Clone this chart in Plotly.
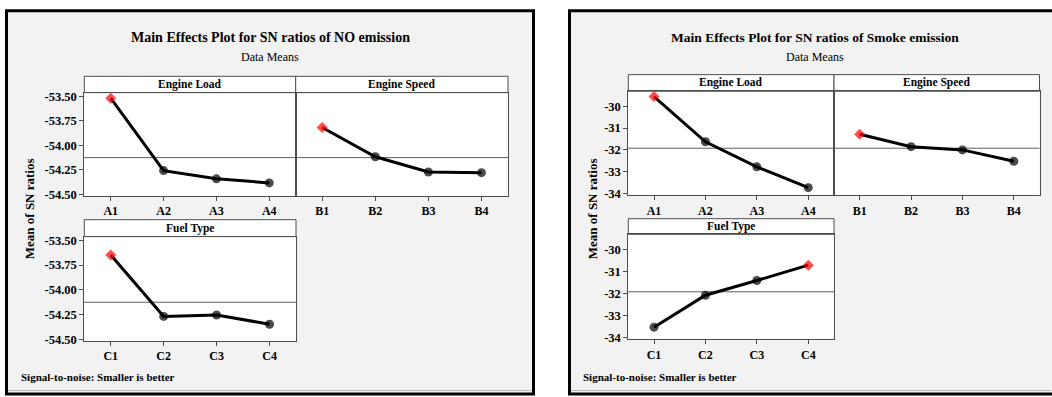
import plotly.graph_objects as go

# ---- data: mean SN ratio (dB) for each factor level ----
load_levels = ["A1", "A2", "A3", "A4"]
speed_levels = ["B1", "B2", "B3", "B4"]
fuel_levels = ["C1", "C2", "C3", "C4"]

no_load = [-53.52, -54.258, -54.342, -54.383]
no_speed = [-53.819, -54.117, -54.272, -54.279]
no_fuel = [-53.648, -54.268, -54.254, -54.347]

smoke_load = [-29.552, -31.627, -32.776, -33.73]
smoke_speed = [-31.281, -31.85, -31.997, -32.52]
smoke_fuel = [-33.53, -32.076, -31.409, -30.711]

no_tick_vals = [-53.50, -53.75, -54.00, -54.25, -54.50]
no_tick_text = ["-53.50", "-53.75", "-54.00", "-54.25", "-54.50"]
smoke_tick_vals = [-30, -31, -32, -33, -34]
smoke_tick_text = ["-30", "-31", "-32", "-33", "-34"]

no_mean = sum(no_load + no_speed + no_fuel) / 12
smoke_mean = sum(smoke_load + smoke_speed + smoke_fuel) / 12

# ---- canvas helpers (pixel -> paper) ----
W, H = 1052, 397


def px(x):
    return x / W


def py(y):
    return 1 - y / H


SERIF = "Liberation Serif, Times New Roman, serif"
FRAME_GREY = "#4d4d4d"
BG = "#f2f2f2"

fig = go.Figure()
layout = {}
shapes = []
annotations = []

# outer Minitab-style frames
for x0, x1 in [(6.5, 533.5), (569.5, 1070)]:
    shapes.append(dict(type="rect", xref="paper", yref="paper",
                       x0=px(x0), x1=px(x1), y0=py(8), y1=py(400),
                       fillcolor=BG, line=dict(color="black", width=3),
                       layer="below"))
    shapes.append(dict(type="line", xref="paper", yref="paper",
                       x0=px(x0 + 1.5), x1=px(min(x1, W) - 1.5),
                       y0=py(396.5), y1=py(396.5),
                       line=dict(color="#bdbdbd", width=1), layer="below"))

panels = [
    # left chart: NO emission
    dict(levels=load_levels, values=no_load, name="Engine Load",
         xs=(84.3, 295.7), ys=(91.7, 197.3), strip=75.0,
         yr=[-54.515, -53.463], tv=no_tick_vals, tt=no_tick_text,
         showy=True, mean=no_mean, yfs=12.5),
    dict(levels=speed_levels, values=no_speed, name="Engine Speed",
         xs=(295.7, 508.0), ys=(91.7, 197.3), strip=75.0,
         yr=[-54.515, -53.463], tv=no_tick_vals, tt=no_tick_text,
         showy=False, mean=no_mean, yfs=12.5),
    dict(levels=fuel_levels, values=no_fuel, name="Fuel Type",
         xs=(84.3, 296.0), ys=(239.0, 345.7), strip=221.7,
         yr=[-54.515, -53.463], tv=no_tick_vals, tt=no_tick_text,
         showy=True, mean=no_mean, yfs=12.5),
    # right chart: smoke emission
    dict(levels=load_levels, values=smoke_load, name="Engine Load",
         xs=(628.3, 834.0), ys=(90.3, 196.7), strip=73.3,
         yr=[-34.076, -29.31], tv=smoke_tick_vals, tt=smoke_tick_text,
         showy=True, mean=smoke_mean, yfs=12.5),
    dict(levels=speed_levels, values=smoke_speed, name="Engine Speed",
         xs=(834.0, 1039.5), ys=(90.3, 196.7), strip=73.3,
         yr=[-34.076, -29.31], tv=smoke_tick_vals, tt=smoke_tick_text,
         showy=False, mean=smoke_mean, yfs=12.5),
    dict(levels=fuel_levels, values=smoke_fuel, name="Fuel Type",
         xs=(628.3, 834.0), ys=(236.7, 344.0), strip=220.7,
         yr=[-34.076, -29.31], tv=smoke_tick_vals, tt=smoke_tick_text,
         showy=True, mean=smoke_mean, yfs=12.5),
]

for i, p in enumerate(panels, start=1):
    xa = "x" if i == 1 else f"x{i}"
    ya = "y" if i == 1 else f"y{i}"
    xkey = "xaxis" if i == 1 else f"xaxis{i}"
    ykey = "yaxis" if i == 1 else f"yaxis{i}"
    x0, x1 = p["xs"]
    y0, y1 = p["ys"]

    best = max(p["values"])
    symbols = ["diamond" if v == best else "circle" for v in p["values"]]
    colors = ["#ff0000" if v == best else "black" for v in p["values"]]
    sizes = [8.5 if v == best else 9 for v in p["values"]]

    fig.add_trace(go.Scatter(
        x=p["levels"], y=p["values"], xaxis=xa, yaxis=ya,
        mode="lines+markers",
        line=dict(color="black", width=3),
        marker=dict(symbol=symbols, color=colors, size=sizes,
                    line=dict(width=0)),
        showlegend=False, hoverinfo="skip"))

    layout[xkey] = dict(
        domain=[px(x0), px(x1)], anchor=ya, type="category",
        range=[-0.5, 3.5], showline=True, mirror=True,
        linecolor=FRAME_GREY, linewidth=1,
        ticks="outside", ticklen=4, tickcolor=FRAME_GREY,
        tickfont=dict(family=SERIF, size=12, color="black",
                      weight="bold"),
        showgrid=False, zeroline=False, fixedrange=True)
    layout[ykey] = dict(
        domain=[py(y1), py(y0)], anchor=xa, range=p["yr"],
        tickvals=p["tv"], ticktext=p["tt"],
        showticklabels=p["showy"],
        ticks="outside" if p["showy"] else "", ticklen=4,
        tickcolor=FRAME_GREY,
        showline=True, mirror=True, linecolor=FRAME_GREY, linewidth=1,
        tickfont=dict(family=SERIF, size=p["yfs"], color="black",
                      weight="bold"),
        showgrid=False, zeroline=False, fixedrange=True)

    # white data area and strip header
    shapes.append(dict(type="rect", xref="paper", yref="paper",
                       x0=px(x0), x1=px(x1), y0=py(y1), y1=py(y0),
                       fillcolor="white", line=dict(width=0),
                       layer="below"))
    shapes.append(dict(type="rect", xref="paper", yref="paper",
                       x0=px(x0), x1=px(x1), y0=py(y0), y1=py(p["strip"]),
                       fillcolor="white",
                       line=dict(color=FRAME_GREY, width=1),
                       layer="below"))
    # grand-mean reference line
    shapes.append(dict(type="line", xref=f"{xa} domain", yref=ya,
                       x0=0, x1=1, y0=p["mean"], y1=p["mean"],
                       line=dict(color="#5f5f5f", width=1),
                       layer="below"))
    annotations.append(dict(
        text=p["name"], xref="paper", yref="paper",
        x=px((x0 + x1) / 2), y=py((p["strip"] + y0) / 2),
        xanchor="center", yanchor="middle", showarrow=False,
        font=dict(family=SERIF, size=11.5, color="black", weight="bold")))

# titles, axis titles, footers
chart_text = [
    (270, "Main Effects Plot for SN ratios of NO emission", 29, 14),
    (815, "Main Effects Plot for SN ratios of Smoke emission", 592, 13.5),
]
for cx, title, ytx, tsize in chart_text:
    annotations.append(dict(
        text=title, xref="paper", yref="paper", x=px(cx), y=py(35.5),
        xanchor="center", yanchor="middle", showarrow=False,
        font=dict(family=SERIF, size=tsize, color="black", weight="bold")))
    annotations.append(dict(
        text="Data Means", xref="paper", yref="paper", x=px(cx), y=py(55),
        xanchor="center", yanchor="middle", showarrow=False,
        font=dict(family=SERIF, size=12, color="black")))
    annotations.append(dict(
        text="Mean of SN ratios", xref="paper", yref="paper",
        x=px(ytx), y=py(211), textangle=-90,
        xanchor="center", yanchor="middle", showarrow=False,
        font=dict(family=SERIF, size=13, color="black", weight="bold")))

for fx in (19, 580.7):
    annotations.append(dict(
        text="Signal-to-noise: Smaller is better", xref="paper",
        yref="paper", x=px(fx), y=py(382.7),
        xanchor="left", yanchor="middle", showarrow=False,
        font=dict(family=SERIF, size=11, color="black", weight="bold")))

fig.update_layout(
    width=W, height=H, margin=dict(l=0, r=0, t=0, b=0),
    paper_bgcolor="white", plot_bgcolor="rgba(0,0,0,0)",
    shapes=shapes, annotations=annotations, showlegend=False,
    **layout)

fig.write_html("out.html", config={"displayModeBar": False})
